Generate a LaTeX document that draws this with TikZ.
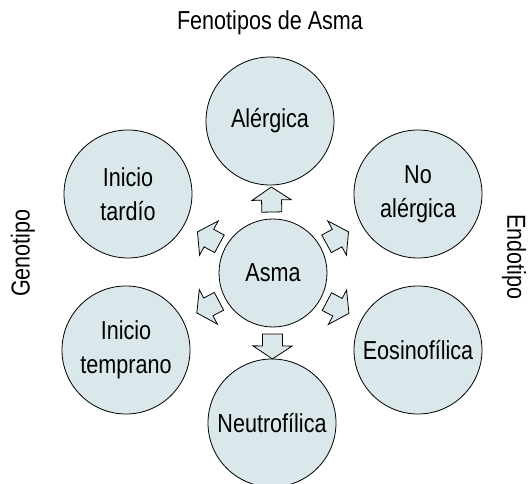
\documentclass[tikz,border=0pt]{standalone}
\usepackage{fontspec}
\setmainfont{Liberation Sans}[FakeStretch=0.83]
\usetikzlibrary{calc}
\definecolor{cfill}{RGB}{218,232,236}
\tikzset{
  x=1pt, y=-1pt,
  bubble/.style={circle, draw=black, line width=0.8pt, fill=cfill, inner sep=0pt,
    minimum size=#1, align=center, font=\fontsize{26}{34}\selectfont},
  bubble/.default=128pt,
  lbl/.style={font=\fontsize{26}{34}\selectfont, inner sep=0pt},
  barrow/.pic={\draw[line width=0.8pt, fill=cfill, line join=miter]
    (0,-10) -- (12,-10) -- (12,-19.5) -- (25,0) -- (12,19.5) -- (12,10) -- (0,10) -- cycle;}
}
\begin{document}
\begin{tikzpicture}
\useasboundingbox (0,0) rectangle (531,484);
\node[bubble] (ale) at (270,121) {Al\'ergica};
\node[bubble] (tar) at (128,194) {Inicio\\tard\'io};
\node[bubble] (noa) at (418,194) {No\\al\'ergica};
\node[bubble] (tem) at (126,350) {Inicio\\temprano};
\node[bubble] (eos) at (418,350) {Eosinof\'ilica};
\node[bubble] (neu) at (272,423) {Neutrof\'ilica};
\node[bubble=108pt] (asma) at (273,273) {Asma};
\node[lbl] (title) at (270,23) {Fenotipos de Asma};
\node[lbl, rotate=90] (geno) at (23,253) {Genotipo};
\node[lbl, rotate=-90] (endo) at (514,257) {Endotipo};
\foreach \t in {ale,tar,noa,tem,eos,neu}{
  \path let \p1=($(\t.center)-(asma.center)$), \n1={atan2(\y1,\x1)} in
    pic[rotate=\n1] at ($(asma.center)!61pt!(\t.center)$) {barrow};
}
\end{tikzpicture}
\end{document}
